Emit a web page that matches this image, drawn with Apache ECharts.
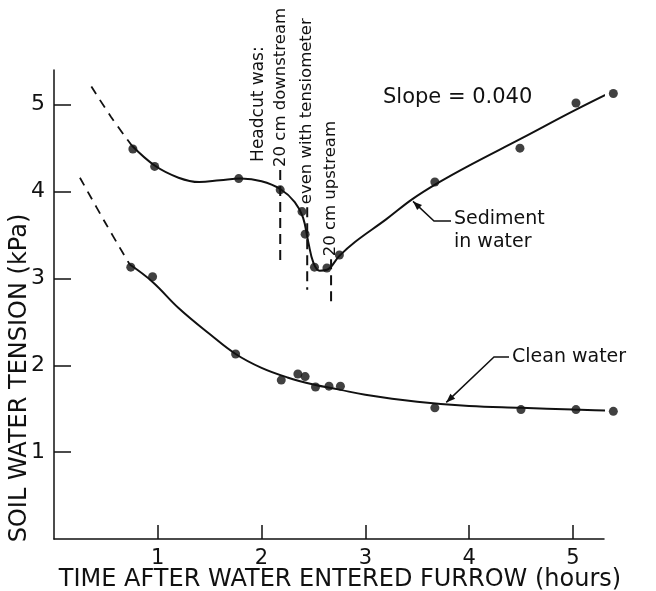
<!DOCTYPE html>
<html>
<head>
<meta charset="utf-8">
<script src="https://cdn.jsdelivr.net/npm/echarts@6/dist/echarts.min.js"></script>
<style>
html,body{margin:0;padding:0;background:#fff;}
#c{width:656px;height:591px;}
</style>
</head>
<body>
<div id="c"></div>
<script>
// ---- data ----
const xTicks = [1, 2, 3, 4, 5];
const yTicks = [1, 2, 3, 4, 5];

// measured points: sediment in water
const sedX = [0.76, 0.97, 1.78, 2.18, 2.39, 2.42, 2.51, 2.63, 2.75, 3.67, 4.49, 5.03, 5.39];
const sedY = [4.49, 4.29, 4.15, 4.02, 3.77, 3.51, 3.13, 3.12, 3.27, 4.11, 4.50, 5.02, 5.13];
// measured points: clean water
const cleanX = [0.74, 0.95, 1.75, 2.19, 2.35, 2.42, 2.52, 2.65, 2.76, 3.67, 4.50, 5.03, 5.39];
const cleanY = [3.13, 3.02, 2.13, 1.83, 1.90, 1.87, 1.75, 1.76, 1.76, 1.51, 1.49, 1.49, 1.47];

// fitted curve traces
const sedDashX = [0.36, 0.55, 0.75];
const sedDashY = [5.21, 4.86, 4.53];
const sedCurveX = [0.75, 0.97, 1.2, 1.4, 1.6, 1.8, 2.0, 2.18, 2.32, 2.40, 2.45, 2.50, 2.56, 2.63, 2.75, 2.9, 3.2, 3.45, 3.7, 4.0, 4.5, 5.04, 5.6];
const sedCurveY = [4.53, 4.30, 4.16, 4.11, 4.13, 4.15, 4.12, 4.03, 3.88, 3.70, 3.42, 3.18, 3.09, 3.10, 3.26, 3.42, 3.68, 3.91, 4.10, 4.30, 4.61, 4.95, 5.28];
const cleanDashX = [0.25, 0.49, 0.73];
const cleanDashY = [4.16, 3.65, 3.16];
const cleanCurveX = [0.73, 0.95, 1.2, 1.5, 1.75, 2.0, 2.25, 2.5, 2.75, 3.0, 3.5, 4.0, 4.5, 5.0, 5.65];
const cleanCurveY = [3.16, 2.96, 2.66, 2.36, 2.13, 1.97, 1.86, 1.78, 1.72, 1.66, 1.58, 1.53, 1.51, 1.49, 1.47];

// headcut position markers
const markX = [2.18, 2.44, 2.67];
const markTop = [4.25, 3.82, 3.22];
const markBottom = [3.19, 2.87, 2.68];
const markLabels = ['20 cm downstream', 'even with tensiometer', '20 cm upstream'];

const zip = (a, b) => a.map((v, i) => [v, b[i]]);
const FONT = '"DejaVu Sans", "Liberation Sans", Arial, sans-serif';
const INK = '#111';

const chart = echarts.init(document.getElementById('c'), null, {renderer: 'canvas'});

const lineBase = {type: 'line', smooth: 0.4, showSymbol: false, symbol: 'none', clip: false, z: 3, silent: true};

const series = [
  Object.assign({}, lineBase, {data: zip(sedDashX, sedDashY), lineStyle: {color: INK, width: 1.8, type: [9, 7]}}),
  Object.assign({}, lineBase, {data: zip(sedCurveX, sedCurveY), lineStyle: {color: INK, width: 2}}),
  Object.assign({}, lineBase, {data: zip(cleanDashX, cleanDashY), lineStyle: {color: INK, width: 1.8, type: [9, 7]}}),
  Object.assign({}, lineBase, {data: zip(cleanCurveX, cleanCurveY), lineStyle: {color: INK, width: 2}}),
  {type: 'scatter', data: zip(sedX, sedY), symbolSize: 9, itemStyle: {color: INK}, clip: false, z: 4, silent: true},
  {type: 'scatter', data: zip(cleanX, cleanY), symbolSize: 9, itemStyle: {color: INK}, clip: false, z: 4, silent: true}
];
markX.forEach((x, i) => {
  series.push({type: 'line', data: [[x, markTop[i]], [x, markBottom[i]]], showSymbol: false, symbol: 'none',
    clip: false, silent: true, z: 2, lineStyle: {color: INK, width: 2, type: [10, 6]}});
});

chart.setOption({
  animation: false,
  backgroundColor: '#fff',
  grid: {left: 54, top: 70, width: 550, height: 469, containLabel: false},
  xAxis: {
    type: 'value', min: 0, max: 5.3,
    axisLine: {show: true, lineStyle: {color: INK, width: 1.5}},
    axisTick: {show: true, inside: true, length: 14, customValues: xTicks, lineStyle: {color: INK, width: 1.5}},
    axisLabel: {customValues: xTicks, color: INK, fontSize: 21, fontFamily: FONT, margin: 9},
    splitLine: {show: false}
  },
  yAxis: {
    type: 'value', min: 0, max: 5.4,
    axisLine: {show: true, lineStyle: {color: INK, width: 1.5}},
    axisTick: {show: true, inside: true, length: 17, customValues: yTicks, lineStyle: {color: INK, width: 1.5}},
    axisLabel: {customValues: yTicks, color: INK, fontSize: 22, fontFamily: FONT, margin: 9},
    splitLine: {show: false}
  },
  series: series
});

// ---- annotations ----
const px = p => chart.convertToPixel({gridIndex: 0}, p);
function arrowHead(tip, from, len, half) {
  const dx = tip[0] - from[0], dy = tip[1] - from[1];
  const d = Math.hypot(dx, dy), ux = dx / d, uy = dy / d;
  const bx = tip[0] - ux * len, by = tip[1] - uy * len;
  return {type: 'polygon', shape: {points: [tip, [bx - uy * half, by + ux * half], [bx + uy * half, by - ux * half]]},
    style: {fill: INK}, z: 10};
}
const textStyle = (size) => ({fill: INK, font: size + 'px ' + FONT});
const g = [];

// axis titles
g.push({type: 'text', x: 340, y: 580, style: Object.assign(textStyle(24), {text: 'TIME AFTER WATER ENTERED FURROW (hours)', align: 'center', verticalAlign: 'middle'}), z: 10});
g.push({type: 'text', x: 20, y: 378, rotation: Math.PI / 2, style: Object.assign(textStyle(24), {text: 'SOIL WATER TENSION (kPa)', align: 'center', verticalAlign: 'middle'}), z: 10});

// headcut labels
const p0 = px([markX[0], markTop[0]]);
g.push({type: 'text', x: p0[0] - 22, y: p0[1] - 8, rotation: Math.PI / 2, style: Object.assign(textStyle(17), {text: 'Headcut was:', align: 'left', verticalAlign: 'middle'}), z: 10});
markX.forEach((x, i) => {
  const p = px([x, markTop[i]]);
  g.push({type: 'text', x: p[0], y: p[1] - 3, rotation: Math.PI / 2, style: Object.assign(textStyle(16.5), {text: markLabels[i], align: 'left', verticalAlign: 'middle'}), z: 10});
});

// slope text
g.push({type: 'text', x: 383, y: 98, style: Object.assign(textStyle(21), {text: 'Slope = 0.040', align: 'left', verticalAlign: 'middle'}), z: 10});

// sediment label + leader
g.push({type: 'text', x: 454, y: 219, style: Object.assign(textStyle(19), {text: 'Sediment', align: 'left', verticalAlign: 'middle'}), z: 10});
g.push({type: 'text', x: 454, y: 242, style: Object.assign(textStyle(19), {text: 'in water', align: 'left', verticalAlign: 'middle'}), z: 10});
const sTip = px([3.45, 3.91]);
const sTipAdj = [sTip[0] + 1, sTip[1] + 2];
g.push({type: 'polyline', shape: {points: [[451, 221], [434, 221], sTipAdj]}, style: {stroke: INK, lineWidth: 1.5, fill: null}, z: 10});
g.push(arrowHead(sTipAdj, [434, 221], 9, 3.5));

// clean water label + leader
g.push({type: 'text', x: 512, y: 357, style: Object.assign(textStyle(19), {text: 'Clean water', align: 'left', verticalAlign: 'middle'}), z: 10});
const cTip = px([3.78, 1.55]);
const cTipAdj = [cTip[0], cTip[1] - 2];
g.push({type: 'polyline', shape: {points: [[509, 357], [494, 357], cTipAdj]}, style: {stroke: INK, lineWidth: 1.5, fill: null}, z: 10});
g.push(arrowHead(cTipAdj, [494, 357], 9, 3.5));

chart.setOption({graphic: g});
</script>
</body>
</html>
